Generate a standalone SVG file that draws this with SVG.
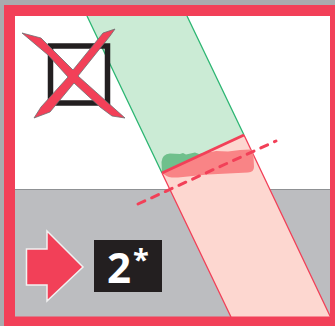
<svg xmlns="http://www.w3.org/2000/svg" width="335" height="326" viewBox="0 0 335 326">
<style>
.red{fill:#f24058}
.txt{font-family:"Open Sans","Liberation Sans",sans-serif;font-weight:700;fill:#fff}
</style>
<rect width="335" height="326" fill="#a9abae"/>
<g id="ground">
<rect x="15" y="16" width="315" height="173.500" fill="#fff"/>
<rect x="15" y="189" width="315" height="128" fill="#bcbdc0"/>
<line x1="15" y1="189.500" x2="330" y2="189.500" stroke="#8f9194" stroke-width="1"/>
</g>
<g id="green-band">
<path d="M87 16H187L244 135L162 173Z" fill="#cbebd5" stroke="none"/>
<path d="M87 16L162 173M187 16L244 135" fill="none" stroke="#2db673" stroke-width="1.300"/>
</g>
<g id="red-band">
<path d="M162 173L244 135L330.500 317H231Z" fill="#fdd7d0"/>
<path d="M162 173L231 317M244 135L330.500 317" fill="none" stroke="#f24058" stroke-width="1.300"/>
</g>
<g id="contact-patch">
<path d="M162 173L161.500 162Q162 154 170 153.500L180 154L183 153L186 154.500L195 152.500L199 154L207 152.500L215 152Z" fill="#6fc08c"/>
<path d="M162 173L206 153L216 151L228 151.500L240 150L250 149.500Q253 150 253.500 156L254 167Q254 172 248 172.500L208 174.500L178 177.500Q168 178 165 175Z" fill="#f98486"/>
<line x1="162" y1="173" x2="244" y2="135" stroke="#f24058" stroke-width="3"/>
</g>
<g id="axis">
<line x1="138" y1="204" x2="276" y2="141" stroke="#f24058" stroke-width="3" stroke-linecap="round" stroke-dasharray="7.500 7.500"/>
</g>
<g id="crossed-square">
<rect x="50.500" y="46" width="57" height="57" fill="none" stroke="#231f20" stroke-width="5.500"/>
<path d="M22 33L41 38L73 70L103 33L115 29L110 36L78 76L125 118L112 116L100 107L74 83L50 112L34 118L41 107L68 77L48 55Z" class="red" stroke="#6d6e71" stroke-width="0.800" stroke-linejoin="miter"/>
</g>
<g id="arrow">
<path d="M26.500 249H47V231L83 267L47 301V285H26.500Z" class="red" stroke="#f1f1f1" stroke-width="1.500"/>
</g>
<g id="badge">
<rect x="94" y="240" width="68" height="52" fill="#231f20"/>
<text class="txt" x="107" y="283" font-size="42">2</text>
<text class="txt" x="133" y="270" font-size="29">*</text>
</g>
<g id="frame">
<path fill-rule="evenodd" d="M4 5H335V326H4ZM15 16V316.500H330V16Z" class="red"/>
</g>
</svg>
